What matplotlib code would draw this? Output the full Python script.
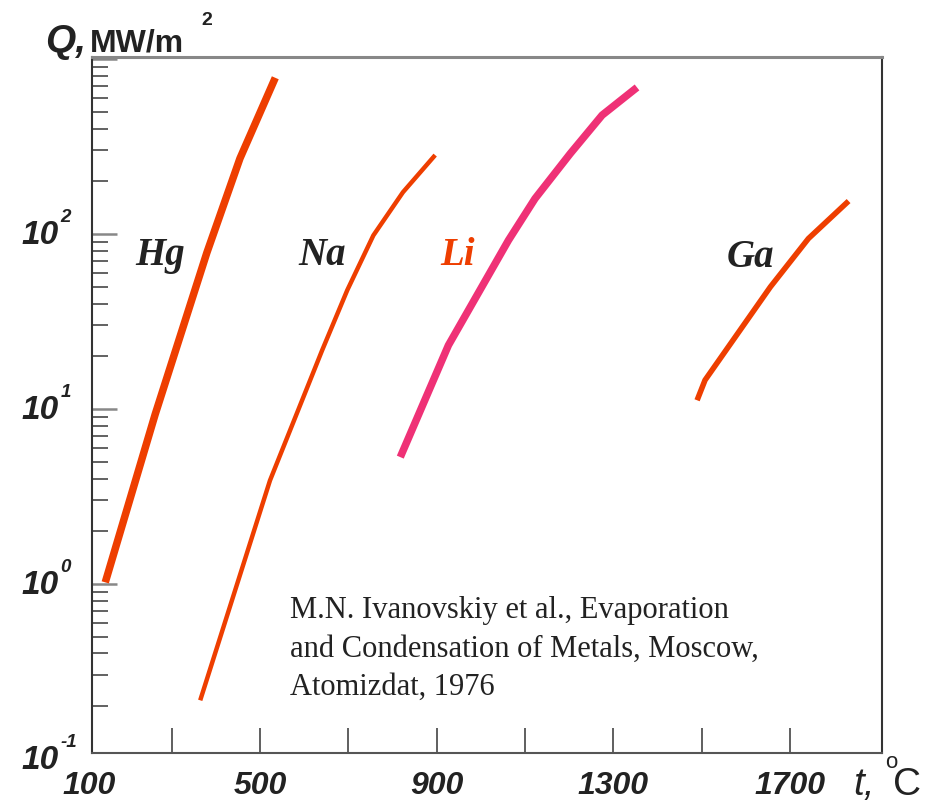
import matplotlib
matplotlib.use('Agg')
import matplotlib.pyplot as plt
import matplotlib.transforms as mtransforms
from matplotlib.ticker import LogLocator, NullLocator, FixedLocator

# ---- data (temperature in C, heat flux Q in MW/m^2) ----
hg_t = [150, 263, 380, 455, 535]
hg_q = [1.02, 9.3, 78, 270, 780]
na_t = [365, 523, 641, 698, 757, 824, 897]
na_q = [0.216, 3.9, 21.6, 47.7, 98, 173, 282]
li_t = [818, 927, 1063, 1123, 1203, 1275, 1354]
li_q = [5.3, 23.1, 92, 159, 288, 477, 687]
ga_t = [1490, 1508, 1656, 1742, 1833]
ga_q = [11.2, 14.6, 49.8, 94, 154]

series_names = ['Hg', 'Na', 'Li', 'Ga']
xtick_marks = [300, 500, 700, 900, 1100, 1300, 1500, 1700]
xtick_labels = [100, 500, 900, 1300, 1700]
ytick_exponents = [-1, 0, 1, 2]

ORANGE = '#EE3E00'
PINK = '#EF3176'
INK = '#222222'

fig = plt.figure(figsize=(9.35, 8.02), dpi=100)
ax = fig.add_axes([0.0984, 0.0611, 0.8446, 0.8678])
ax.set_yscale('log')
ax.set_xlim(120, 1908)
ax.set_ylim(0.108, 1025)

ax.plot(hg_t, hg_q, color=ORANGE, lw=5.4, solid_capstyle='butt')
ax.plot(na_t, na_q, color=ORANGE, lw=3.2, solid_capstyle='butt')
ax.plot(li_t, li_q, color=PINK, lw=5.4, solid_capstyle='butt')
ax.plot(ga_t, ga_q, color=ORANGE, lw=4.0, solid_capstyle='butt')

# ticks
ax.xaxis.set_major_locator(FixedLocator(xtick_marks))
ax.xaxis.set_minor_locator(NullLocator())
ax.yaxis.set_major_locator(LogLocator(base=10, numticks=10))
ax.yaxis.set_minor_locator(LogLocator(base=10, subs=range(2, 10), numticks=20))
ax.tick_params(axis='x', which='major', direction='in', length=18, width=1.2,
               color='#444444', labelbottom=False)
ax.tick_params(axis='y', which='major', direction='in', length=18, width=1.8,
               color='#888888', labelleft=False)
ax.tick_params(axis='y', which='minor', direction='in', length=11.5, width=1.3,
               color='#555555', labelleft=False)

for side, c, w in [('left', '#333333', 1.5), ('right', '#333333', 1.5),
                   ('top', '#888888', 2.2), ('bottom', '#555555', 1.5)]:
    ax.spines[side].set_color(c)
    ax.spines[side].set_linewidth(w)

# x tick labels
tx = mtransforms.blended_transform_factory(ax.transData, ax.transAxes)
for v in xtick_labels:
    tr = tx
    if v < ax.get_xlim()[0]:
        tr = mtransforms.offset_copy(tx, fig=fig, x=4.5, units='points')
    ax.text(v, -0.0474, str(v), transform=tr, ha='center', va='center',
            fontsize=23, fontweight='bold', style='italic',
            family='Liberation Sans', color=INK, clip_on=False)

# y tick labels 10^e
ty = mtransforms.blended_transform_factory(ax.transAxes, ax.transData)
ty_base = mtransforms.offset_copy(ty, fig=fig, y=-1.5, units='points')
ty_exp = mtransforms.offset_copy(ty, fig=fig, y=12, units='points')
for e in ytick_exponents:
    ax.text(-0.042, 10.0 ** e, '10', transform=ty_base, ha='right', va='center',
            fontsize=24, fontweight='bold', style='italic',
            family='Liberation Sans', color=INK, clip_on=False)
    ax.text(-0.040, 10.0 ** e, str(e), transform=ty_exp, ha='left', va='center',
            fontsize=13.5, fontweight='bold', style='italic',
            family='Liberation Sans', color=INK, clip_on=False)

# series labels
label_pos = {'Hg': (0.0545, 0.701), 'Na': (0.261, 0.701),
             'Li': (0.4407, 0.701), 'Ga': (0.804, 0.698)}
label_col = {'Hg': INK, 'Na': INK, 'Li': ORANGE, 'Ga': INK}
for name in series_names:
    x, y = label_pos[name]
    ax.text(x, y, name, transform=ax.transAxes, ha='left', va='baseline',
            fontsize=28, fontweight='bold', style='italic',
            family='Liberation Serif', color=label_col[name])

# citation
cite = ['M.N. Ivanovskiy et al., Evaporation',
        'and Condensation of Metals, Moscow,',
        'Atomizdat, 1976']
for i, line in enumerate(cite):
    ax.text(0.2507, (753 - (618 + 38.5 * i)) / 696, line, transform=ax.transAxes,
            ha='left', va='baseline', fontsize=22, family='Liberation Serif',
            color=INK)

# axis titles
W, H = 935, 802
fig.text(45 / W, 1 - 52 / H, 'Q,', fontsize=28, fontweight='bold', style='italic',
         family='Liberation Sans', va='baseline', color=INK)
fig.text(90 / W, 1 - 52 / H, 'MW/m', fontsize=23, fontweight='bold',
         family='Liberation Sans', va='baseline', color=INK)
fig.text(201 / W, 1 - 25 / H, '2', fontsize=14, fontweight='bold',
         family='Liberation Sans', va='baseline', color=INK)

fig.text(853 / W, 1 - 795 / H, 't,', fontsize=28, style='italic',
         family='Liberation Sans', va='baseline', color=INK)
fig.text(885 / W, 1 - 768 / H, 'o', fontsize=16,
         family='Liberation Sans', va='baseline', color=INK)
fig.text(893 / W, 1 - 795 / H, 'C', fontsize=28,
         family='Liberation Sans', va='baseline', color=INK)

fig.savefig('out.png', dpi=100)
